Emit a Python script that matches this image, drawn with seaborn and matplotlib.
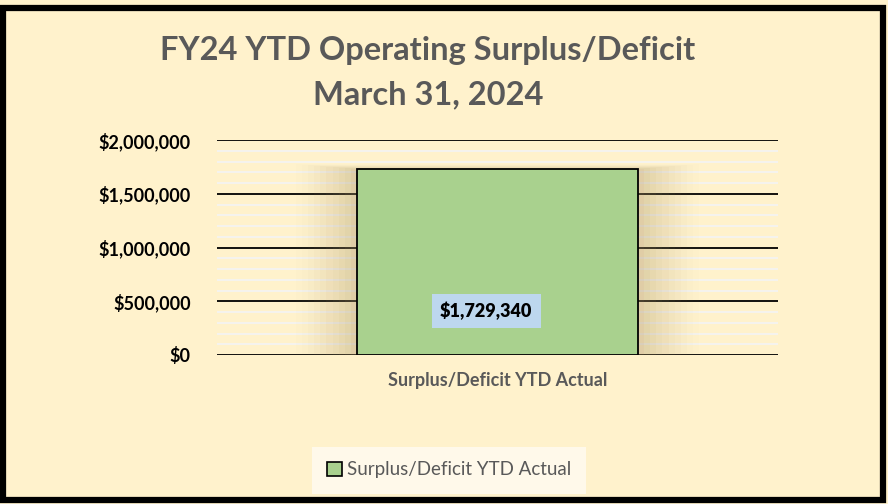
import matplotlib
matplotlib.use("Agg")
import matplotlib.pyplot as plt
import seaborn as sns
import pandas as pd
import numpy as np
from matplotlib.patches import Patch, Rectangle
from matplotlib.ticker import FuncFormatter, MultipleLocator

categories = ["Surplus/Deficit YTD Actual"]
values = [1729340]
title_lines = ["FY24 YTD Operating Surplus/Deficit", "March 31, 2024"]
y_ticks = [0, 500000, 1000000, 1500000, 2000000]

BG = "#FFF2CC"
GREY = "#595959"
sns.set_theme(style="white")
plt.rcParams["font.family"] = ["Lato", "DejaVu Sans"]

fig = plt.figure(figsize=(8.88, 5.04), dpi=100)
fig.patch.set_facecolor(BG)
ax = fig.add_axes([217/888, 1-355/504, (778-217)/888, (355-140)/504])
ax.set_facecolor(BG)

df = pd.DataFrame({"cat": categories, "val": values})

# soft glow behind bar
for i, a in enumerate(np.linspace(0.07, 0.015, 10)):
    pad = 0.011 * (i + 1)
    ax.add_patch(Rectangle((-0.25 - pad, 0), 0.5 + 2*pad, values[0] + pad*400000,
                           facecolor="#B09A6A", edgecolor="none", alpha=a, zorder=1))

sns.barplot(data=df, x="cat", y="val", width=0.5, color="#A9D18E",
            edgecolor="black", linewidth=1.3, saturation=1, ax=ax, zorder=3)

ax.set_xlim(-0.5, 0.5)
ax.set_ylim(0, 2000000)
ax.set_yticks(y_ticks)
ax.yaxis.set_minor_locator(MultipleLocator(100000))
ax.grid(axis="y", which="minor", color="#F4F4F4", linewidth=1.2, zorder=0)
ax.grid(axis="y", which="major", color="black", linewidth=1.3, zorder=0)
ax.set_axisbelow(True)
ax.yaxis.set_major_formatter(FuncFormatter(lambda v, p: f"${v:,.0f}"))
for s in ax.spines.values():
    s.set_visible(False)
ax.tick_params(axis="y", length=0, pad=19, labelsize=13, labelcolor="black")
ax.tick_params(axis="x", length=0, pad=12, labelsize=13, labelcolor=GREY)
for t in ax.get_yticklabels():
    t.set_fontweight("bold")
for t in ax.get_xticklabels():
    t.set_fontweight("bold")
ax.set_xlabel("")
ax.set_ylabel("")

# data label
ax.text(-0.02, values[0] * 0.236, f"${values[0]:,.0f}", ha="center", va="center",
        fontsize=13, fontweight="heavy", color="black", zorder=5,
        bbox=dict(boxstyle="square,pad=0.45", facecolor="#BDD7EE", edgecolor="none"))

fig.text(0.482, 0.900, title_lines[0], ha="center", va="center",
         fontsize=23.5, fontweight="bold", color=GREY)
fig.text(0.482, 0.812, title_lines[1], ha="center", va="center",
         fontsize=23.5, fontweight="bold", color=GREY)

leg = fig.legend(handles=[Patch(facecolor="#A9D18E", edgecolor="black", linewidth=1.2,
                                label=categories[0])],
                 loc="center", bbox_to_anchor=(449/888, 1-470/504), frameon=True,
                 fontsize=13.5, handlelength=0.8, handleheight=0.8, handletextpad=0.3,
                 borderpad=0.7, borderaxespad=0)
leg.get_frame().set_facecolor("#FFFBF2")
leg.get_frame().set_edgecolor("none")
leg.get_frame().set_boxstyle("square", pad=0.1)
for t in leg.get_texts():
    t.set_color(GREY)

# outer frame
fig.add_artist(Rectangle((0.003, 0.008), 0.991, 0.977, transform=fig.transFigure,
                         fill=False, edgecolor="black", linewidth=4.5))

fig.savefig("out.png", dpi=100, facecolor=BG)
